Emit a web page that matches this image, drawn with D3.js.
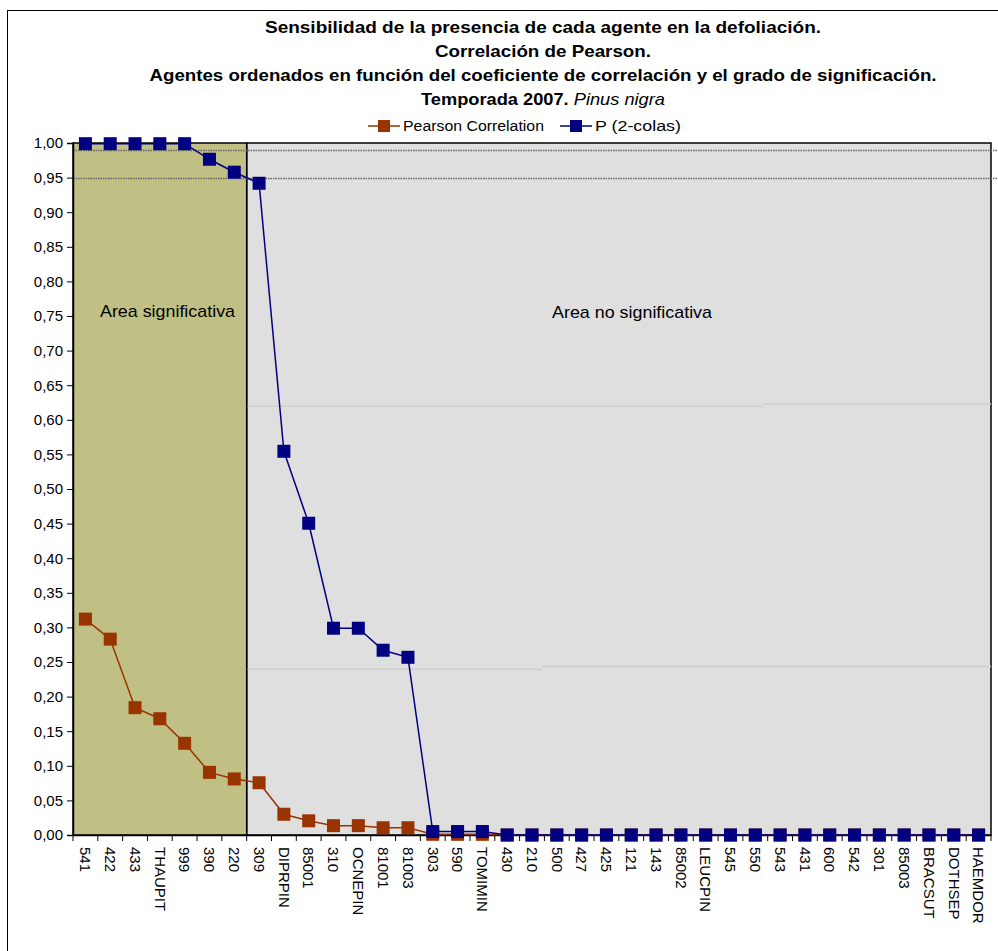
<!DOCTYPE html>
<html>
<head>
<meta charset="utf-8">
<script src="https://cdn.jsdelivr.net/npm/d3@7/dist/d3.min.js"></script>
<style>
  html, body { margin: 0; padding: 0; background: #fff; }
  svg { display: block; }
  text { font-family: "Liberation Sans", Arial, sans-serif; }
</style>
</head>
<body>
<svg id="chart" width="998" height="951"></svg>
<script>
const categories = ["541","422","433","THAUPIT","999","390","220","309","DIPRPIN","85001","310","OCNEPIN","81001","81003","303","590","TOMIMIN","430","210","500","427","425","121","143","85002","LEUCPIN","545","550","543","431","600","542","301","85003","BRACSUT","DOTHSEP","HAEMDOR"];
const pearson = [0.312,0.283,0.184,0.168,0.1325,0.0905,0.081,0.0755,0.030,0.0205,0.0135,0.0135,0.0105,0.0105,0.001,0.001,0.001,0,0,0,0,0,0,0,0,0,0,0,0,0,0,0,0,0,0,0,0];
const pTwoTail = [0.999,0.999,0.999,0.999,0.999,0.9765,0.9578,0.9418,0.5545,0.4505,0.2988,0.2988,0.267,0.2568,0.005,0.005,0.005,0,0,0,0,0,0,0,0,0,0,0,0,0,0,0,0,0,0,0,0];
const yTicks = [0,0.05,0.10,0.15,0.20,0.25,0.30,0.35,0.40,0.45,0.50,0.55,0.60,0.65,0.70,0.75,0.80,0.85,0.90,0.95,1.00];
const refLines = [0.99, 0.95];
const significantCount = 7;
const titleLines = ["Sensibilidad de la presencia de cada agente en la defoliación.","Correlación de Pearson.","Agentes ordenados en función del coeficiente de correlación y el grado de significación."];
const seriesNames = ["Pearson Correlation","P (2-colas)"];

const svg = d3.select("#chart");
const L = 73, R = 991, T = 143, B = 835;
const x = d3.scaleBand().domain(categories).range([L, R]);
const y = d3.scaleLinear().domain([0, 1]).range([B, T]);
const colOr = "#993300", colBl = "#000080";

// outer chart border
svg.append("rect").attr("x", 7.5).attr("y", 10.5).attr("width", 1000).attr("height", 1000)
  .attr("fill", "none").attr("stroke", "#000").attr("stroke-width", 1);

// title
const cx = 543;
const tLens = [556, 216, 787];
const tt = svg.append("g").attr("font-weight", "bold").attr("font-size", 17).attr("fill", "#000").attr("text-anchor", "middle");
titleLines.forEach((t, i) => tt.append("text").attr("x", cx).attr("y", 33 + i * 24)
  .attr("textLength", tLens[i]).attr("lengthAdjust", "spacingAndGlyphs").text(t));
const t4 = tt.append("text").attr("x", cx).attr("y", 105).attr("textLength", 244).attr("lengthAdjust", "spacingAndGlyphs");
t4.append("tspan").text("Temporada 2007. ");
t4.append("tspan").attr("font-weight", "normal").attr("font-style", "italic").text("Pinus nigra");

// legend
const leg = [{name: seriesNames[0], c: colOr, x: 368, w: 141}, {name: seriesNames[1], c: colBl, x: 560, w: 86}];
leg.forEach(l => {
  svg.append("line").attr("x1", l.x).attr("x2", l.x + 32).attr("y1", 126).attr("y2", 126).attr("stroke", l.c).attr("stroke-width", 1.5);
  svg.append("rect").attr("x", l.x + 10).attr("y", 120).attr("width", 12).attr("height", 12).attr("fill", l.c);
  svg.append("text").attr("x", l.x + 35).attr("y", 131).attr("font-size", 14)
    .attr("textLength", l.w).attr("lengthAdjust", "spacingAndGlyphs").text(l.name);
});

// areas
const xSplit = x(categories[significantCount]);
svg.append("rect").attr("x", xSplit).attr("y", T).attr("width", R - xSplit).attr("height", B - T)
  .attr("fill", "#dfdfdf").attr("stroke", "#000").attr("stroke-width", 1.5);
// faint shape lines in grey area
[[xSplit, 762, y(0.6195)], [762, R, y(0.6228)], [xSplit, 542, y(0.2394)], [542, R, y(0.2434)]].forEach(s => {
  svg.append("line").attr("x1", s[0]).attr("x2", s[1]).attr("y1", s[2]).attr("y2", s[2]).attr("stroke", "#cfcfcf").attr("stroke-width", 1.5);
});
svg.append("rect").attr("x", L).attr("y", T).attr("width", xSplit - L).attr("height", B - T)
  .attr("fill", "#c0c084").attr("stroke", "#000").attr("stroke-width", 1.5);

svg.append("text").attr("x", 100).attr("y", 317).attr("font-size", 17)
  .attr("textLength", 135).attr("lengthAdjust", "spacingAndGlyphs").text("Area significativa");
svg.append("text").attr("x", 552).attr("y", 318).attr("font-size", 17)
  .attr("textLength", 160).attr("lengthAdjust", "spacingAndGlyphs").text("Area no significativa");

// reference dotted lines
refLines.forEach(v => {
  svg.append("line").attr("x1", L).attr("x2", 998).attr("y1", Math.round(y(v)) + 0.5).attr("y2", Math.round(y(v)) + 0.5)
    .attr("stroke", "#666").attr("stroke-width", 1.3).attr("stroke-dasharray", "1.5,1");
});

// y axis
const fmt = d => d3.format(".2f")(d).replace(".", ",");
const yAx = svg.append("g").attr("transform", `translate(${L},0)`)
  .call(d3.axisLeft(y).tickValues(yTicks).tickFormat(fmt).tickSize(6).tickPadding(4));
yAx.select(".domain").attr("stroke", "#000").attr("stroke-width", 1.5);
yAx.selectAll("text").attr("font-size", 15).attr("font-family", "Liberation Sans, Arial, sans-serif").attr("fill", "#000");
yAx.selectAll(".tick line").attr("stroke", "#000");

// x axis
const xAx = svg.append("g").attr("transform", `translate(0,${B})`)
  .call(d3.axisBottom(x).tickSize(0).tickPadding(0));
xAx.select(".domain").attr("stroke", "#000").attr("stroke-width", 1.5);
xAx.selectAll("text").attr("font-size", 15).attr("font-family", "Liberation Sans, Arial, sans-serif").attr("fill", "#000")
  .attr("text-anchor", "start").attr("transform", "rotate(90)").attr("x", 12).attr("y", 0).attr("dy", "0.35em");
// boundary ticks
const edges = categories.map(c => x(c)).concat([R]);
svg.append("g").selectAll("line").data(edges).join("line")
  .attr("x1", d => d).attr("x2", d => d).attr("y1", B).attr("y2", B + 6).attr("stroke", "#000");

// series
const drawSeries = (vals, col) => {
  const pts = vals.map((v, i) => [x(categories[i]) + x.bandwidth() / 2, y(v)]);
  svg.append("path").attr("d", d3.line()(pts)).attr("fill", "none").attr("stroke", col).attr("stroke-width", 1.5);
  svg.append("g").selectAll("rect").data(pts).join("rect")
    .attr("x", d => d[0] - 6.5).attr("y", d => d[1] - 6.5).attr("width", 13).attr("height", 13).attr("fill", col);
};
drawSeries(pearson, colOr);
drawSeries(pTwoTail, colBl);
</script>
</body>
</html>
